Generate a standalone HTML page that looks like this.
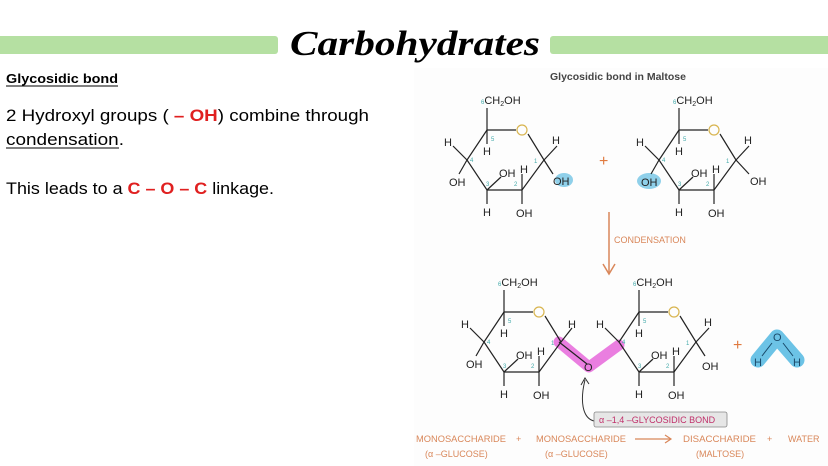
<!DOCTYPE html>
<html><head><meta charset="utf-8"><style>
html,body{margin:0;padding:0;background:#fff;}
svg{display:block;}
</style></head><body>
<svg width="828" height="466" viewBox="0 0 828 466" xmlns="http://www.w3.org/2000/svg" font-family="Liberation Sans, sans-serif">
<rect width="828" height="466" fill="#fff"/>
<rect x="-6" y="36" width="284" height="18" rx="3" fill="#b5e0a2"/>
<rect x="550" y="36" width="290" height="18" rx="3" fill="#b5e0a2"/>
<text x="290" y="55" font-family="Liberation Serif, serif" font-weight="bold" font-style="italic" font-size="35" textLength="250" lengthAdjust="spacingAndGlyphs" fill="#000">Carbohydrates</text>
<text x="6" y="83" font-size="13" font-weight="bold" textLength="112" lengthAdjust="spacingAndGlyphs">Glycosidic bond</text>
<line x1="6" y1="86" x2="118" y2="86" stroke="#000" stroke-width="1"/>
<text x="6" y="121" font-size="17" textLength="363" lengthAdjust="spacingAndGlyphs">2 Hydroxyl groups ( <tspan fill="#e02020" font-weight="bold">– OH</tspan>) combine through</text>
<text x="6" y="145" font-size="17" textLength="118" lengthAdjust="spacingAndGlyphs">condensation.</text>
<line x1="6" y1="148" x2="119" y2="148" stroke="#000" stroke-width="1"/>
<text x="6" y="194" font-size="17" textLength="268" lengthAdjust="spacingAndGlyphs">This leads to a <tspan fill="#e02020" font-weight="bold">C – O – C</tspan> linkage.</text>

<rect x="414" y="68" width="414" height="398" fill="#fdfdfd"/>
<text x="550" y="80" font-size="10.5" font-weight="bold" fill="#444">Glycosidic bond in Maltose</text>

<defs>
<g id="ring" stroke="#222" stroke-width="1.2" fill="none">
  <polyline points="0,0 29,0"/>
  <polyline points="41,4 57,30 35,60 0,60 -20,30 0,0"/>
  <circle cx="35" cy="0" r="5" stroke="#d8b550"/>
  <line x1="0" y1="0" x2="0" y2="-22"/>
  <line x1="0" y1="0" x2="0" y2="14"/>
  <line x1="-20" y1="30" x2="-34" y2="16"/>
  <line x1="0" y1="60" x2="0" y2="74"/>
  <line x1="0" y1="60" x2="14" y2="47"/>
  <line x1="35" y1="60" x2="35" y2="44"/>
  <line x1="35" y1="60" x2="35" y2="74"/>
</g>
<g id="ringtxt" font-size="11" fill="#222">
  <text x="-6" y="-26"><tspan font-size="6" fill="#4aa">6</tspan>CH<tspan font-size="7" dy="2">2</tspan><tspan dy="-2">OH</tspan></text>
  <text x="-4" y="25">H</text>
  <text x="-43" y="16">H</text>
  <text x="-4" y="86">H</text>
  <text x="12" y="47">OH</text>
  <text x="33" y="43">H</text>
  <text x="29" y="87">OH</text>
  <g font-size="6" fill="#4aa"><text x="4" y="11">5</text><text x="-17" y="32">4</text><text x="-1" y="56">3</text><text x="27" y="56">2</text><text x="47" y="33">1</text></g>
</g>
</defs>

<ellipse cx="564" cy="180" rx="9" ry="7" fill="#8fd0ea"/>
<ellipse cx="649" cy="181" rx="12" ry="8" fill="#8fd0ea"/>
<g transform="translate(487,130)">
  <use href="#ring"/><use href="#ringtxt"/>
  <g stroke="#222" stroke-width="1.2"><line x1="-20" y1="30" x2="-28" y2="44"/><line x1="57" y1="30" x2="70" y2="16"/><line x1="57" y1="30" x2="66" y2="44"/></g>
  <g font-size="11" fill="#222"><text x="-38" y="56">OH</text><text x="65" y="14">H</text><text x="66" y="55">OH</text></g>
</g>
<g transform="translate(679,130)">
  <use href="#ring"/><use href="#ringtxt"/>
  <g stroke="#222" stroke-width="1.2"><line x1="-20" y1="30" x2="-28" y2="44"/><line x1="57" y1="30" x2="70" y2="16"/><line x1="57" y1="30" x2="70" y2="44"/></g>
  <g font-size="11" fill="#222"><text x="-38" y="56">OH</text><text x="65" y="14">H</text><text x="71" y="55">OH</text></g>
</g>
<text x="599" y="166" font-size="16" fill="#e07a40">+</text>
<line x1="609" y1="212" x2="609" y2="273" stroke="#d9875a" stroke-width="1.5"/>
<polyline points="603,264 609,274 615,264" fill="none" stroke="#d9875a" stroke-width="1.5"/>
<text x="614" y="243" font-size="9" fill="#d9875a">CONDENSATION</text>

<polyline points="559,342 589,367 619,345" fill="none" stroke="#ea7ee0" stroke-width="11" stroke-linecap="round" stroke-linejoin="round"/>
<polyline points="559,342 587,364 M591,364 619,345" fill="none" stroke="#222" stroke-width="1.2"/>
<text x="584" y="371" font-size="11" fill="#222">O</text>
<g transform="translate(504,312)">
  <use href="#ring"/><use href="#ringtxt"/>
  <g stroke="#222" stroke-width="1.2"><line x1="-20" y1="30" x2="-28" y2="44"/><line x1="57" y1="30" x2="68" y2="16"/></g>
  <g font-size="11" fill="#222"><text x="-38" y="56">OH</text><text x="64" y="16">H</text></g>
</g>
<g transform="translate(639,312)">
  <use href="#ring"/><use href="#ringtxt"/>
  <g stroke="#222" stroke-width="1.2"><line x1="57" y1="30" x2="70" y2="16"/><line x1="57" y1="30" x2="66" y2="44"/></g>
  <g font-size="11" fill="#222"><text x="65" y="14">H</text><text x="63" y="58">OH</text></g>
</g>
<text x="733" y="350" font-size="16" fill="#e07a40">+</text>
<polyline points="758,360 777,337 797,360" fill="none" stroke="#6cc3e6" stroke-width="15" stroke-linecap="round" stroke-linejoin="round"/>
<g font-size="11" fill="#1a4a6a"><text x="773" y="341">O</text><text x="754" y="366">H</text><text x="793" y="366">H</text></g>
<g stroke="#1a4a6a" stroke-width="1"><line x1="772" y1="343" x2="762" y2="356"/><line x1="783" y1="343" x2="793" y2="356"/></g>

<path d="M594,421 C582,418 580,400 585,380" fill="none" stroke="#333" stroke-width="1"/>
<polyline points="581,385 585,378 589,384" fill="none" stroke="#333" stroke-width="1"/>
<rect x="594" y="412" width="133" height="15" fill="#e6e6e6" stroke="#888" stroke-width="0.8" rx="2"/>
<text x="599" y="423" font-size="9" fill="#c0306a">α –1,4 –GLYCOSIDIC  BOND</text>

<g font-size="9" fill="#d9875a">
<text x="416" y="442" textLength="90" lengthAdjust="spacingAndGlyphs">MONOSACCHARIDE</text>
<text x="516" y="442">+</text>
<text x="536" y="442" textLength="90" lengthAdjust="spacingAndGlyphs">MONOSACCHARIDE</text>
<text x="683" y="442" textLength="73" lengthAdjust="spacingAndGlyphs">DISACCHARIDE</text>
<text x="767" y="442">+</text>
<text x="788" y="442">WATER</text>
<text x="425" y="457">(α –GLUCOSE)</text>
<text x="545" y="457">(α –GLUCOSE)</text>
<text x="696" y="457">(MALTOSE)</text>
</g>
<line x1="635" y1="439" x2="671" y2="439" stroke="#d9875a" stroke-width="1.2"/>
<polyline points="665,435 671,439 665,443" fill="none" stroke="#d9875a" stroke-width="1.2"/>
</svg>
</body></html>
